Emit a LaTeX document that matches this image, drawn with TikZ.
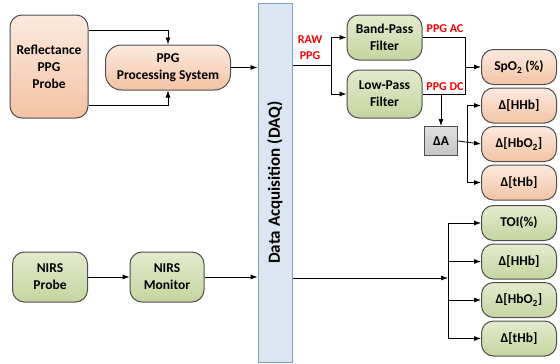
\documentclass[tikz,border=0pt]{standalone}
\usepackage{fontspec}
\setmainfont{Carlito}
\usepackage{tikz}
\usetikzlibrary{positioning,arrows.meta}
\definecolor{peachtop}{HTML}{FCEADF}
\definecolor{peachbot}{HTML}{F3C3A3}
\definecolor{greentop}{HTML}{E3EBCD}
\definecolor{greenbot}{HTML}{C5D5A0}
\definecolor{daqfill}{HTML}{DCE6F2}
\definecolor{daqline}{HTML}{7D9DC3}
\definecolor{edge}{HTML}{4F4F4F}
\begin{document}
\begin{tikzpicture}[
    x=1pt,y=1pt,
    blk/.style={draw=edge,line width=1pt,rounded corners=12pt,align=center,
                inner sep=1pt,font=\fontsize{13.5}{17}\selectfont\bfseries},
    peach/.style={blk,top color=peachtop,bottom color=peachbot},
    olive/.style={blk,top color=greentop,bottom color=greenbot},
    outbox/.style={minimum width=75pt,minimum height=35pt},
    lbl/.style={text=red,font=\fontsize{12}{16}\selectfont\bfseries,align=center},
    arr/.style={-{Latex[length=7pt,width=5pt]},line width=0.8pt},
    ln/.style={line width=0.8pt},
  ]
    \useasboundingbox (0,0) rectangle (560,-364);
    \node[peach,minimum width=78pt,minimum height=103pt] (RP) at (49,-66.5)
        {Reflectance\\ PPG\\ Probe};
    \node[peach,minimum width=125pt,minimum height=45pt,rounded corners=16pt] (PPS) at (168,-67.5)
        {PPG\\ Processing System};
    \node[draw=daqline,line width=1pt,fill=daqfill,minimum width=34pt,minimum height=359pt] (DAQ) at (275,-182.5) {};
    \node[rotate=90,font=\fontsize{17}{19}\selectfont\bfseries] at (DAQ) {Data Acquisition (DAQ)};
    \node[olive,minimum width=75pt,minimum height=45pt] (BPF) at (384.5,-37.5) {Band-Pass\\ Filter};
    \node[olive,minimum width=75pt,minimum height=48pt] (LPF) at (384.5,-94) {Low-Pass\\ Filter};
    \node[draw=edge,line width=1pt,top color=gray!25,bottom color=gray!45,minimum width=33pt,
          minimum height=29pt,font=\fontsize{13.5}{15}\selectfont\bfseries] (DA) at (441,-141) {ΔA};
    \node[peach,outbox] (SPO) at (519,-67) {SpO\textsubscript{2} (\%)};
    \node[peach,outbox,below=2.5pt of SPO] (HHB1) {Δ[HHb]};
    \node[peach,outbox,below=2.5pt of HHB1] (HBO1) {Δ[HbO\textsubscript{2}]};
    \node[peach,outbox,below=2.5pt of HBO1] (THB1) {Δ[tHb]};
    \node[olive,outbox] (TOI) at (519,-223) {TOI(\%)};
    \node[olive,outbox,below=2.5pt of TOI] (HHB2) {Δ[HHb]};
    \node[olive,outbox,below=2.5pt of HHB2] (HBO2) {Δ[HbO\textsubscript{2}]};
    \node[olive,outbox,below=2.5pt of HBO2] (THB2) {Δ[tHb]};
    \node[olive,minimum width=75pt,minimum height=50pt] (NP) at (50,-277) {NIRS\\ Probe};
    \node[olive,minimum width=74pt,minimum height=50pt] (NM) at (167,-277) {NIRS\\ Monitor};
    \node[lbl] (RAW) at (310,-48) {RAW\\ PPG};
    \node[lbl] (AC) at (445,-29) {PPG AC};
    \node[lbl] (DC) at (445,-87) {PPG DC};
    \coordinate (SPL) at (331,-65);
    \coordinate (MRG) at (465,-67);
    \coordinate (BUSA) at (467,-141);
    \coordinate (BUSB) at (448,-278);
    \draw[arr] ([yshift=36pt]RP.east) -| (PPS.north);
    \draw[arr] ([yshift=-39pt]RP.east) -| (PPS.south);
    \draw[arr] (PPS.east) -- (PPS.east -| DAQ.west);
    \draw[ln] (SPL -| DAQ.east) -- (SPL);
    \draw[arr] (SPL) |- (BPF.west);
    \draw[arr] (SPL) |- (LPF.west);
    \draw[ln] (BPF.east) -| (MRG);
    \draw[ln] (LPF.east) -| (MRG);
    \draw[arr] (MRG) -- (SPO.west);
    \draw[arr] (LPF.east -| DA.north) -- (DA.north);
    \draw[arr] (DA.east) -- (HBO1.west);
    \draw[ln] (BUSA |- HHB1) -- (BUSA |- THB1);
    \draw[arr] (BUSA |- HHB1) -- (HHB1.west);
    \draw[arr] (BUSA |- THB1) -- (THB1.west);
    \draw[arr] (NP) -- (NM);
    \draw[arr] (NM.east) -- (NM.east -| DAQ.west);
    \draw[arr] (BUSB -| DAQ.east) -- (BUSB);
    \draw[ln] (BUSB |- TOI) -- (BUSB |- THB2);
    \foreach \n in {TOI,HHB2,HBO2,THB2}
      \draw[arr] (BUSB |- \n) -- (\n.west);
\end{tikzpicture}
\end{document}
